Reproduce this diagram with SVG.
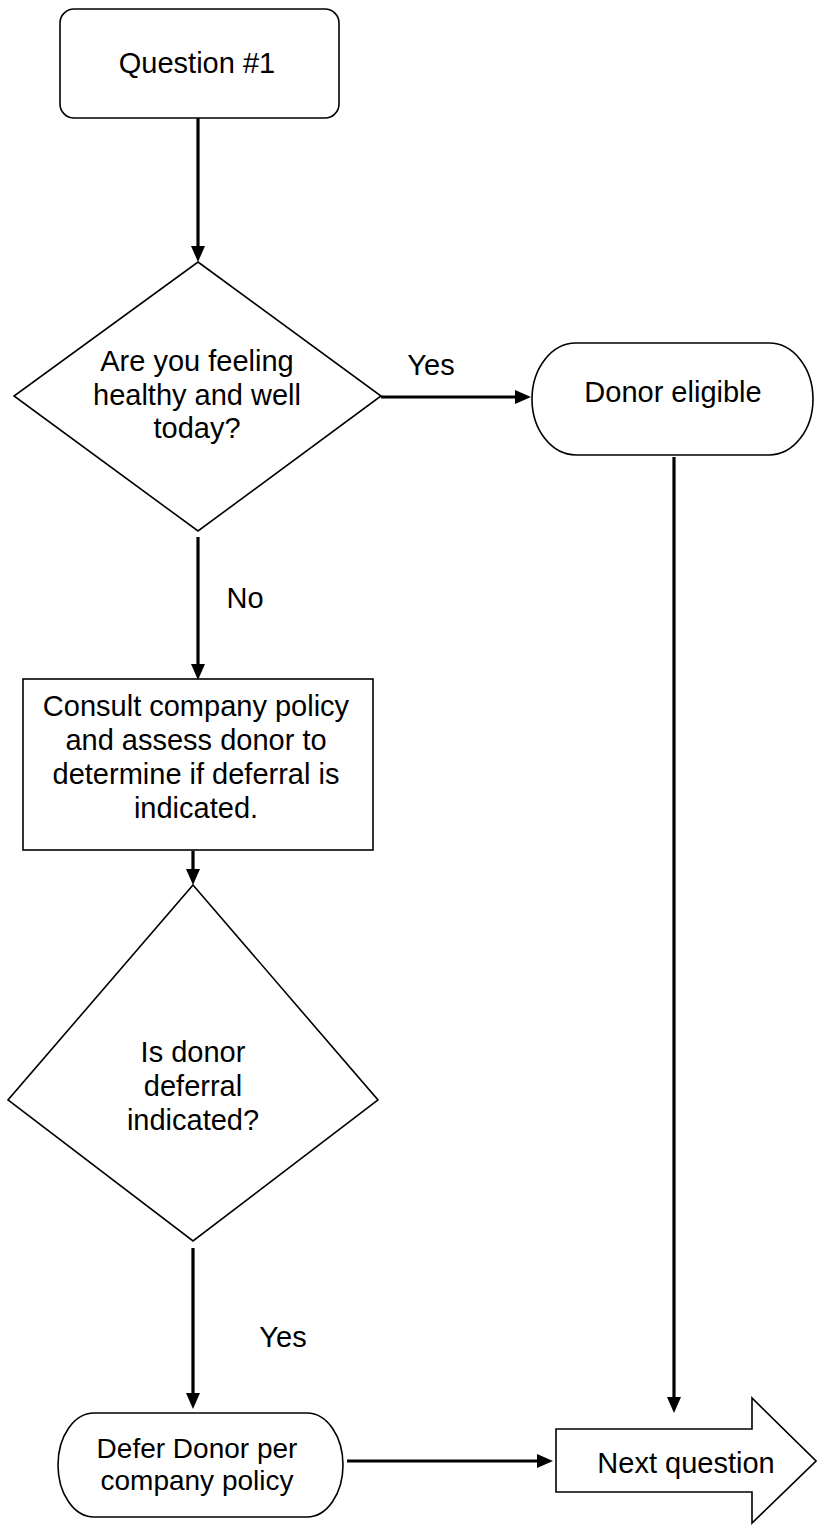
<svg xmlns="http://www.w3.org/2000/svg" width="817" height="1532" viewBox="0 0 817 1532">
  <style>
    .shape { fill: #ffffff; stroke: #000000; stroke-width: 1.6; }
    .conn { fill: none; stroke: #000000; stroke-width: 3.2; }
    .lbl { font-family: "Liberation Sans", Arial, sans-serif; font-size: 29px; fill: #000000; text-anchor: middle; }
    .sm { font-size: 28px; }
  </style>
  <defs>
    <marker id="arrow" markerUnits="userSpaceOnUse" markerWidth="16" markerHeight="16" refX="0" refY="8" orient="auto" viewBox="0 0 16 16">
      <path d="M0,1 L16,8 L0,15 z" fill="#000000"/>
    </marker>
  </defs>
  <rect width="817" height="1532" fill="#ffffff"/>

  <g id="connectors">
    <line class="conn" x1="198" y1="118" x2="198" y2="246" marker-end="url(#arrow)"/>
    <line class="conn" x1="381" y1="397" x2="515" y2="397" marker-end="url(#arrow)"/>
    <line class="conn" x1="198" y1="537" x2="198" y2="664" marker-end="url(#arrow)"/>
    <line class="conn" x1="193" y1="851" x2="193" y2="869" marker-end="url(#arrow)"/>
    <line class="conn" x1="193" y1="1248" x2="193" y2="1393" marker-end="url(#arrow)"/>
    <line class="conn" x1="674" y1="457" x2="674" y2="1397" marker-end="url(#arrow)"/>
    <line class="conn" x1="347" y1="1461" x2="537" y2="1461" marker-end="url(#arrow)"/>
    <text class="lbl" x="431" y="375">Yes</text>
    <text class="lbl" x="245" y="608">No</text>
    <text class="lbl" x="283" y="1347">Yes</text>
  </g>

  <g id="question1">
    <rect class="shape" x="60" y="9" width="279" height="109" rx="14" ry="14"/>
    <text class="lbl" x="197" y="73">Question #1</text>
  </g>

  <g id="decision1">
    <polygon class="shape" points="198,262 381,396 198,531 14,396"/>
    <text class="lbl" x="197" y="371">Are you feeling</text>
    <text class="lbl" x="197" y="405">healthy and well</text>
    <text class="lbl" x="197" y="438">today?</text>
  </g>

  <g id="donor-eligible">
    <rect class="shape" x="532" y="343" width="281" height="112" rx="44" ry="56"/>
    <text class="lbl" x="673" y="402">Donor eligible</text>
  </g>

  <g id="consult">
    <rect class="shape" x="23" y="679" width="350" height="171"/>
    <text class="lbl" x="196" y="716">Consult company policy</text>
    <text class="lbl" x="196" y="750">and assess donor to</text>
    <text class="lbl" x="196" y="784">determine if deferral is</text>
    <text class="lbl" x="196" y="818">indicated.</text>
  </g>

  <g id="decision2">
    <polygon class="shape" points="193,885 378,1100 193,1241 8,1100"/>
    <text class="lbl" x="193" y="1062">Is donor</text>
    <text class="lbl" x="193" y="1096">deferral</text>
    <text class="lbl" x="193" y="1130">indicated?</text>
  </g>

  <g id="defer">
    <rect class="shape" x="58" y="1413" width="285" height="104" rx="36" ry="52"/>
    <text class="lbl sm" x="197" y="1458">Defer Donor per</text>
    <text class="lbl sm" x="197" y="1490">company policy</text>
  </g>

  <g id="next-question">
    <polygon class="shape" points="556,1429 752,1429 752,1398 816,1461 752,1523 752,1492 556,1492"/>
    <text class="lbl" x="686" y="1473">Next question</text>
  </g>
</svg>
